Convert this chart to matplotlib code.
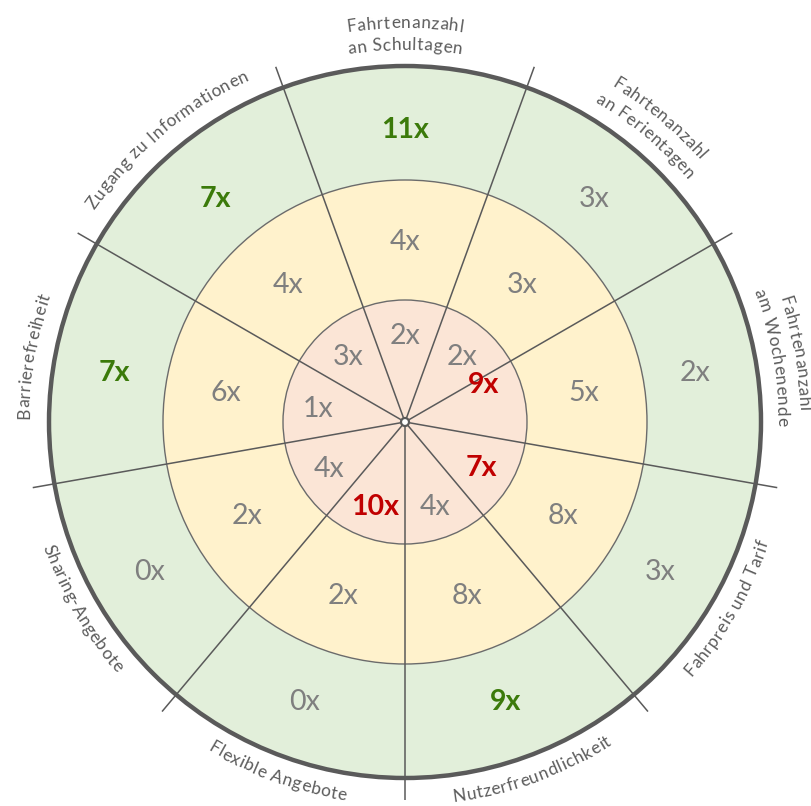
import numpy as np
import matplotlib.pyplot as plt
from matplotlib.patches import Wedge, Circle
from matplotlib.font_manager import FontProperties

# Categories clockwise from the top
categories = ["Fahrtenanzahl\nan Schultagen", "Fahrtenanzahl\nan Ferientagen",
              "Fahrtenanzahl\nam Wochenende", "Fahrpreis und Tarif",
              "Nutzerfreundlichkeit", "Flexible Angebote", "Sharing-Angebote",
              "Barrierefreiheit", "Zugang zu Informationen"]
outer_counts = [11, 3, 2, 3, 9, 0, 0, 7, 7]
middle_counts = [4, 3, 5, 8, 8, 2, 2, 6, 4]
inner_counts = [2, 2, 9, 7, 4, 10, 4, 1, 3]
outer_highlight = [True, False, False, False, True, False, False, True, True]
inner_highlight = [False, False, True, True, False, True, False, False, False]

# Layout (pixels)
W, H = 811, 806
cx, cy = 405, 422
r_inner, r_middle, r_outer, r_spoke = 122, 242, 356, 378
FONT = "Lato"

fig = plt.figure(figsize=(W / 100, H / 100), dpi=100)
ax = fig.add_axes([0, 0, 1, 1])
ax.set_xlim(-cx, W - cx)
ax.set_ylim(-(H - cy), cy)
ax.set_aspect("equal")
ax.axis("off")

n = len(categories)
step = 360 / n
centers = np.arange(n) * step  # clockwise from top


def pos(r, theta):
    t = np.radians(theta)
    return r * np.sin(t), r * np.cos(t)


# ring fills
rings = [(r_outer, r_outer - r_middle, "#e2efda"),
         (r_middle, r_middle - r_inner, "#fff2cc"),
         (r_inner, r_inner, "#fbe5d6")]
for radius, width, color in rings:
    for c in centers:
        ax.add_patch(Wedge((0, 0), radius, 90 - c - step / 2, 90 - c + step / 2,
                           width=width, facecolor=color, edgecolor="none"))

ax.add_patch(Circle((0, 0), r_middle, fill=False, edgecolor="#6b6b6b", lw=1.0))
ax.add_patch(Circle((0, 0), r_inner, fill=False, edgecolor="#6b6b6b", lw=1.0))

# spokes
for c in centers:
    x, y = pos(r_spoke, c - step / 2)
    ax.plot([0, x], [0, y], color="#5a5a5a", lw=1.1, solid_capstyle="butt")

ax.add_patch(Circle((0, 0), r_outer, fill=False, edgecolor="#5a5a5a", lw=3.2))
ax.add_patch(Circle((0, 0), 4, facecolor="white", edgecolor="#5a5a5a", lw=1.6, zorder=5))

# counts
gray = "#7f7f7f"
num_size = 20.5
inner_nudge = {2: -17}
for i, c in enumerate(centers):
    x, y = pos(295, c)
    ax.text(x, y, f"{outer_counts[i]}x", ha="center", va="center_baseline",
            fontsize=num_size, family=FONT,
            color="#3b7a0a" if outer_highlight[i] else gray,
            fontweight="bold" if outer_highlight[i] else "normal")
    x, y = pos(182, c)
    ax.text(x, y, f"{middle_counts[i]}x", ha="center", va="center_baseline",
            fontsize=num_size, family=FONT, color=gray)
    x, y = pos(88, c + inner_nudge.get(i, 0))
    ax.text(x, y, f"{inner_counts[i]}x", ha="center", va="center_baseline",
            fontsize=num_size, family=FONT,
            color="#c00000" if inner_highlight[i] else gray,
            fontweight="bold" if inner_highlight[i] else "normal")

# curved category labels
renderer = fig.canvas.get_renderer()
label_fp = FontProperties(family=FONT, size=12.5)
tracking = 0.6  # extra spacing between letters
dot_w = renderer.get_text_width_height_descent(".", label_fp, ismath=False)[0]


def adv(t):
    w = renderer.get_text_width_height_descent(t + ".", label_fp, ismath=False)[0]
    return w - dot_w + tracking * len(t)


def arc_text(s, r, theta, flip):
    total = adv(s) - tracking
    prev = 0.0
    for i, ch in enumerate(s):
        nxt = adv(s[:i + 1])
        mid = (prev + nxt - tracking) / 2 - total / 2
        prev = nxt
        if ch == " ":
            continue
        d = np.degrees(mid / r)
        th = theta - d if flip else theta + d
        rot = 180 - th if flip else -th
        x, y = pos(r, th)
        ax.text(x, y, ch, rotation=rot, rotation_mode="anchor", ha="center",
                va="baseline", fontproperties=label_fp, color="#5c5c5c")


for c, label in zip(centers, categories):
    flip = 100 < c < 260
    lines = label.split("\n")
    if flip:
        arc_text(lines[0], 383, c, True)
    elif len(lines) == 2:
        arc_text(lines[0], 394, c, False)
        arc_text(lines[1], 372, c, False)
    else:
        arc_text(lines[0], 376, c, False)

fig.savefig("out.png", dpi=100)
